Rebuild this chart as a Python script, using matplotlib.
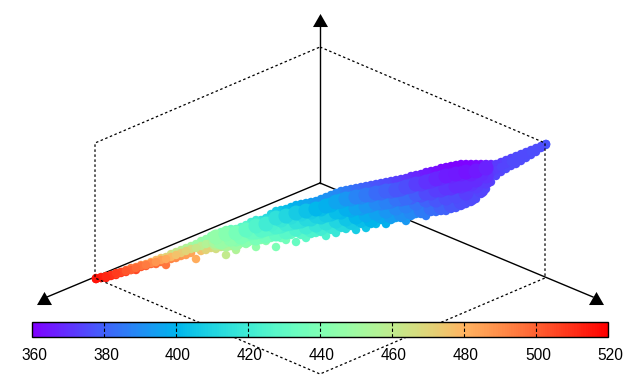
import matplotlib
matplotlib.use('Agg')
import matplotlib.pyplot as plt
from matplotlib.cm import ScalarMappable
from matplotlib.colors import Normalize
from matplotlib.transforms import ScaledTranslation

# columnas de la nube
col_x = list(range(96, 556, 10))
top_y = [278, 276, 274, 270, 267, 264, 260, 257, 252, 248,
         244, 239, 234, 230, 229, 225, 220, 218, 211, 209,
         205, 203, 201, 197, 193, 190, 188, 186, 184, 182,
         180, 178, 175, 172, 170, 167, 165, 164, 164, 164,
         164, 160, 156, 152, 148, 144]
top_val = [515, 510, 505, 497, 492, 486, 478, 470, 462, 455,
           449, 445, 441, 437, 431, 425, 419, 413, 408, 403,
           399, 396, 393, 391, 389, 386, 383, 380, 377, 375,
           373, 371, 368, 365, 363, 362, 361, 361, 362, 365,
           372, 374, 375, 375, 376, 377]
mid_y = [279, 277, 273, 271, 268, 265, 262, 259, 255, 251,
         248, 244, 241, 240, 239, 234, 232, 229, 227, 224,
         222, 219, 216, 215, 212, 209, 208, 206, 203, 202,
         199, 198, 194, 193, 190, 188, 186, 184, 180, 176,
         170, 164, 160, 155, 150, 144]
mid_val = [516, 512, 508, 502, 498, 494, 488, 483, 476, 470,
           462, 456, 452, 448, 443, 437, 432, 428, 424, 420,
           416, 412, 409, 407, 403, 399, 395, 392, 389, 387,
           384, 382, 379, 375, 373, 371, 369, 369, 369, 370,
           373, 374, 375, 375, 376, 377]
bottom_y = [279, 278, 275, 272, 270, 266, 264, 265, 258, 255,
            259, 250, 249, 255, 250, 244, 247, 241, 247, 240,
            242, 238, 233, 236, 233, 229, 230, 228, 224, 224,
            218, 221, 214, 216, 212, 211, 208, 204, 199, 189,
            176, 169, 164, 158, 152, 145]
bottom_val = [518, 515, 512, 508, 505, 502, 498, 495, 490, 486,
              482, 470, 466, 461, 455, 450, 445, 442, 439, 436,
              432, 429, 426, 424, 418, 412, 408, 405, 402, 399,
              396, 393, 390, 386, 383, 380, 378, 377, 376, 375,
              374, 375, 375, 376, 376, 377]

# columnas intermedias de los bordes
half_x = list(range(101, 546, 10))
top2_y = [277, 275, 272, 268, 265, 262, 258, 254, 250, 246,
          241, 236, 232, 229, 227, 222, 220, 214, 210, 207,
          204, 202, 199, 195, 191, 189, 187, 185, 183, 181,
          179, 176, 174, 171, 168, 166, 164, 164, 164, 164,
          162, 158, 154, 150, 146]
top2_val = [512, 507, 501, 494, 489, 482, 474, 466, 458, 452,
            447, 443, 439, 434, 428, 422, 416, 410, 405, 401,
            397, 394, 392, 390, 387, 384, 381, 378, 376, 374,
            372, 369, 366, 364, 362, 361, 361, 361, 363, 368,
            373, 374, 375, 375, 376]
bottom2_y = [278, 276, 273, 270, 267, 264, 262, 259, 256, 253,
             251, 248, 247, 246, 243, 241, 240, 238, 238, 235,
             235, 234, 232, 230, 228, 226, 224, 224, 220, 220,
             218, 216, 214, 212, 211, 209, 206, 202, 194, 182,
             172, 166, 161, 155, 148]
bottom2_val = [516, 513, 510, 506, 503, 500, 496, 492, 488, 484,
               476, 468, 463, 458, 452, 447, 443, 440, 437, 434,
               430, 427, 425, 421, 415, 410, 406, 403, 400, 397,
               394, 391, 388, 384, 381, 379, 377, 376, 375, 374,
               374, 375, 375, 376, 376]

# centro de las partes delgadas
thin_left_x = list(range(101, 221, 10))
thin_left_y = [278, 275, 272, 270, 266, 263, 260, 257, 253, 249, 246, 243]
thin_left_val = [514, 510, 505, 500, 496, 491, 485, 479, 473, 466, 459, 454]
tip_x = list(range(491, 551, 10))
tip_y = [173, 167, 162, 157, 152, 147]
tip_val = [372, 374, 375, 375, 376, 376]

# parte ancha de la nube
wide_x = list(range(216, 496, 10))
upper_y = [237, 234, 233, 230, 226, 224, 218, 216, 213, 211,
           209, 206, 202, 199, 197, 195, 193, 191, 190, 187,
           184, 182, 179, 176, 174, 172, 171, 168]
upper_val = [446, 442, 437, 431, 425, 420, 415, 411, 407, 404,
             401, 399, 396, 392, 388, 385, 382, 380, 378, 376,
             373, 370, 368, 366, 365, 364, 365, 367]
lower_y = [243, 244, 243, 240, 238, 236, 234, 232, 229, 227,
           225, 223, 221, 219, 217, 215, 213, 211, 208, 206,
           203, 200, 200, 198, 196, 193, 186, 181]
lower_val = [459, 454, 449, 443, 438, 435, 431, 428, 424, 421,
             417, 415, 410, 405, 401, 398, 395, 392, 389, 387,
             384, 380, 378, 376, 375, 373, 373, 372]

# relleno de la parte ancha, columnas intermedias
fill_x = list(range(221, 491, 10))
fill_low_y = [243, 242, 239, 237, 236, 234, 234, 231, 231, 230,
              228, 226, 224, 222, 220, 220, 216, 216, 214, 212,
              210, 208, 207, 205, 202, 198, 190]
fill_low_val = [462, 456, 450, 446, 441, 438, 435, 431, 428, 424,
                421, 418, 412, 407, 403, 400, 397, 394, 391, 389,
                386, 383, 380, 378, 376, 375, 374]
fill_mid_y = [241, 238, 235, 233, 231, 228, 226, 223, 221, 219,
              217, 214, 212, 210, 208, 205, 203, 201, 199, 197,
              195, 193, 190, 188, 186, 184, 180]
fill_mid_val = [452, 447, 441, 435, 431, 427, 423, 419, 415, 412,
                409, 406, 402, 398, 394, 391, 388, 386, 383, 380,
                377, 375, 373, 371, 370, 371, 372]
fill_high_y = [242, 239, 237, 232, 230, 224, 220, 217, 214, 212,
               209, 205, 201, 199, 197, 195, 193, 191, 189, 186,
               184, 181, 178, 176, 174, 174, 174]
fill_high_val = [448, 444, 439, 433, 428, 423, 418, 414, 410, 407,
                 403, 400, 396, 392, 389, 386, 383, 380, 378, 376,
                 373, 371, 369, 368, 367, 367, 369]

# cubo y ejes en pixeles de la figura
axis_origin = (320, 183)
axis_ends_x = [320, 47, 593]
axis_ends_y = [20, 297, 297]
arrow_x = [320, 44, 596]
arrow_y = [20, 298, 298]
hex_x = [320, 545, 545, 320, 95, 95, 320]
hex_y = [47, 143, 278, 374, 278, 143, 47]

bar_ticks = [360, 380, 400, 420, 440, 460, 480, 500, 520]

plt.rcParams['font.family'] = ['Liberation Sans', 'DejaVu Sans']

fig = plt.figure(figsize=(6.4, 3.84), dpi=100)
ax = fig.add_axes([0, 0, 1, 1])
ax.set_xlim(0, 640)
ax.set_ylim(384, 0)
ax.axis('off')

norm = Normalize(360, 520)
cmap = plt.get_cmap('rainbow')

# Ejes debajo de los puntos, hexagono punteado encima
for ex, ey in zip(axis_ends_x, axis_ends_y):
    ax.plot([axis_origin[0], ex], [axis_origin[1], ey], color='black', lw=1.0, zorder=1)
ax.scatter(arrow_x, arrow_y, marker=[(0, 1), (-1.15, -1), (1.15, -1)], s=117,
           color='black', linewidths=0, zorder=2)

big = 117
small = 37
# Primero los bordes, luego el relleno para que no se vean los anillos
for xs, ys, vals, size in [
    (half_x, bottom2_y, bottom2_val, small),
    (col_x, bottom_y, bottom_val, small),
    (half_x, top2_y, top2_val, small),
    (col_x, top_y, top_val, small),
    (thin_left_x, thin_left_y, thin_left_val, small),
    (col_x[:12], mid_y[:12], mid_val[:12], small),
    (col_x[40:], mid_y[40:], mid_val[40:], small),
    (tip_x, tip_y, tip_val, small),
    (fill_x, fill_low_y, fill_low_val, big),
    (wide_x, lower_y, lower_val, big),
    (fill_x, fill_mid_y, fill_mid_val, big),
    (wide_x, mid_y[12:40], mid_val[12:40], big),
    (fill_x, fill_high_y, fill_high_val, big),
    (wide_x, upper_y, upper_val, big),
]:
    ax.scatter(xs, ys, c=vals, s=size, cmap=cmap, norm=norm, linewidths=0, zorder=3)

ax.plot(hex_x, hex_y, color='black', lw=0.9, linestyle=(0, (2, 2)), zorder=4)

# Barra de color
cax = fig.add_axes([32 / 640, 1 - 337 / 384, 576 / 640, 15 / 384])
cbar = fig.colorbar(ScalarMappable(norm=norm, cmap=cmap), cax=cax, orientation='horizontal')
cbar.set_ticks(bar_ticks)
cbar.ax.tick_params(length=0, labelsize=11.2, pad=8)
cbar.outline.set_linewidth(1.0)
for t in bar_ticks[1:-1]:
    cax.axvline(t, color='black', lw=0.8, linestyle=(0, (3, 2)))
shift = ScaledTranslation(2 / 100, 0, fig.dpi_scale_trans)
for lab in cax.get_xticklabels():
    lab.set_transform(lab.get_transform() + shift)

fig.savefig('out.png', dpi=100)
